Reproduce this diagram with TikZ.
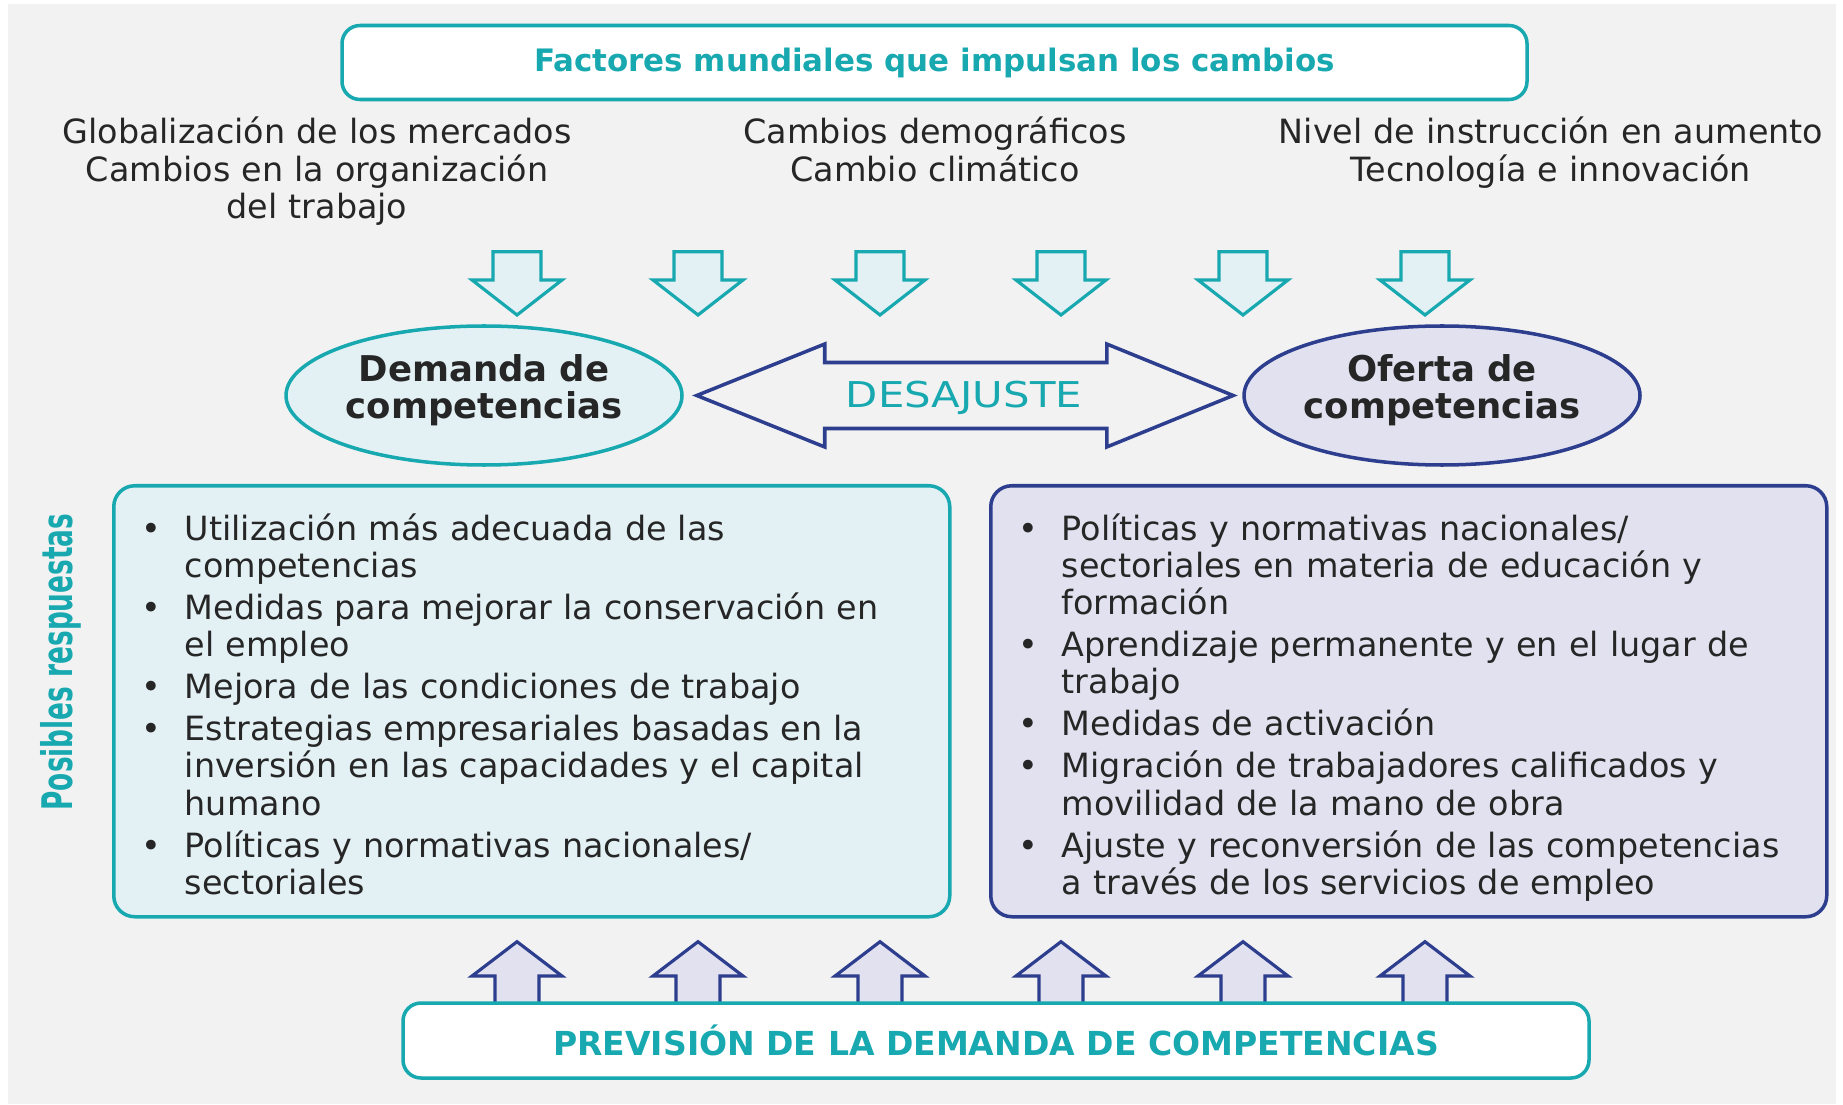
\documentclass[tikz,border=0pt]{standalone}
\usepackage{fontspec}
\setmainfont{DejaVu Sans}
\usepackage{graphicx}
\usetikzlibrary{positioning,shapes.geometric}

\definecolor{tealline}{HTML}{17A8B0}
\definecolor{navyline}{HTML}{2D3E8E}
\definecolor{tealfill}{HTML}{E3F1F5}
\definecolor{lavfill}{HTML}{E1E1EF}
\definecolor{bggray}{HTML}{F2F2F2}
\definecolor{txtgray}{HTML}{262626}

% one bullet item, hanging indent for its other lines
\newcommand{\bitem}[1]{\noindent\hangindent=6.6mm\hangafter=1%
  \makebox[6.6mm][c]{\textbullet}\ignorespaces#1\par\vskip1.4pt}

\begin{document}
\begin{tikzpicture}[
  x=0.1mm, y=-0.1mm,
  font=\fontsize{9.5}{10.6}\selectfont,
  every node/.style={text=txtgray},
  titlebox/.style={rectangle, rounded corners=1.8mm, draw=tealline, line width=1pt, fill=white, minimum width=118.5mm, minimum height=7.4mm, text=tealline, font=\fontsize{8.8}{10}\selectfont\bfseries},
  factor/.style={align=center, text width=60mm, inner sep=0pt, anchor=north, text height=2.6mm},
  skillell/.style={ellipse, line width=1pt, minimum width=39.3mm, minimum height=13.9mm, inner sep=0pt, align=center, text width=28mm, text height=2mm, text depth=4.9mm, font=\fontsize{10.1}{10.7}\selectfont\bfseries},
  respbox/.style={rectangle, rounded corners=2.1mm, line width=1pt, anchor=north west, align=left, text width=82.6mm, inner xsep=0.5mm, inner ysep=0pt, text height=5.5mm, text depth=37.6mm, font=\fontsize{9.5}{10.55}\selectfont},
  fatdown/.pic={\filldraw[draw=tealline, fill=tealfill, line width=0.9pt, line join=miter] (-24,0) -- (24,0) -- (24,28.3) -- (45,28.3) -- (0,63.3) -- (-45,28.3) -- (-24,28.3) -- cycle;},
  fatup/.pic={\filldraw[draw=navyline, fill=lavfill, line width=0.9pt, line join=miter] (-22,0) -- (-22,-27) -- (-45,-27) -- (0,-61.3) -- (45,-27) -- (22,-27) -- (22,0);}
]
\useasboundingbox (0,0) rectangle (1843,1105);
\fill[white] (0,0) rectangle (1843,1105);
\fill[bggray] (8,4) rectangle (1836,1104);

% Top: drivers of change
\node[titlebox] (factores) at (934.5,62.5) {Factores mundiales que impulsan los cambios};
\node[factor] (glob) at (317,117.3) {Globalización de los mercados\\Cambios en la organización\\del trabajo};
\node[factor] (demog) at (935,117.3) {Cambios demográficos\\Cambio climático};
\node[factor] (instr) at (1551,117.3) {Nivel de instrucción en aumento\\Tecnología e innovación};

% arrows into the skills level
\pic (down1) at (517,251.7) {fatdown};
\pic (down2) at (698,251.7) {fatdown};
\pic (down3) at (880,251.7) {fatdown};
\pic (down4) at (1061,251.7) {fatdown};
\pic (down5) at (1243,251.7) {fatdown};
\pic (down6) at (1425,251.7) {fatdown};

% Demand / supply
\node[skillell, draw=tealline, fill=tealfill] (demanda) at (484,395.5) {Demanda de\\competencias};
\node[skillell, draw=navyline, fill=lavfill] (oferta) at (1442,395.5) {Oferta de\\competencias};

% mismatch double arrow
\draw[navyline, line width=1pt, line join=miter] ([xshift=1.3mm]demanda.east) -- ++(128,-51.5) -- ++(0,18.5) -- ++(282,0) -- ++(0,-18.5) -- ++(126.4,51.5) -- ++(-126.4,51.5) -- ++(0,-18.5) -- ++(-282,0) -- ++(0,18.5) -- cycle;
\node[text=tealline, font=\fontsize{11.9}{14}\selectfont] (desajuste) at (964,398) {\scalebox{1}[0.85]{DESAJUSTE}};

% Possible responses
\node[respbox, draw=tealline, fill=tealfill] (respdem) at (112,484) {%
\bitem{Utilización más adecuada de las\newline competencias}
\bitem{Medidas para mejorar la conservación en\newline el empleo}
\bitem{Mejora de las condiciones de trabajo}
\bitem{Estrategias empresariales basadas en la\newline inversión en las capacidades y el capital\newline humano}
\bitem{Políticas y normativas nacionales/\newline sectoriales}};
\node[respbox, draw=navyline, fill=lavfill] (respofe) at (989,484) {%
\bitem{Políticas y normativas nacionales/\newline sectoriales en materia de educación y\newline formación}
\bitem{Aprendizaje permanente y en el lugar de\newline trabajo}
\bitem{Medidas de activación}
\bitem{Migración de trabajadores calificados y\newline movilidad de la mano de obra}
\bitem{Ajuste y reconversión de las competencias\newline a través de los servicios de empleo}};
\node[rotate=90, text=tealline, font=\fontsize{12}{14}\selectfont\bfseries] (posibles) at (61,662) {\scalebox{0.625}[1]{Posibles respuestas}};

% Bottom: forecasting
\pic (up1) at (517,1003) {fatup};
\pic (up2) at (698,1003) {fatup};
\pic (up3) at (880,1003) {fatup};
\pic (up4) at (1061,1003) {fatup};
\pic (up5) at (1243,1003) {fatup};
\pic (up6) at (1425,1003) {fatup};
\node[titlebox, minimum width=118.6mm, minimum height=7.5mm, font=\fontsize{9.4}{11}\selectfont\bfseries] (prevision) at (996,1040.5) {PREVISIÓN DE LA DEMANDA DE COMPETENCIAS};

\end{tikzpicture}
\end{document}
